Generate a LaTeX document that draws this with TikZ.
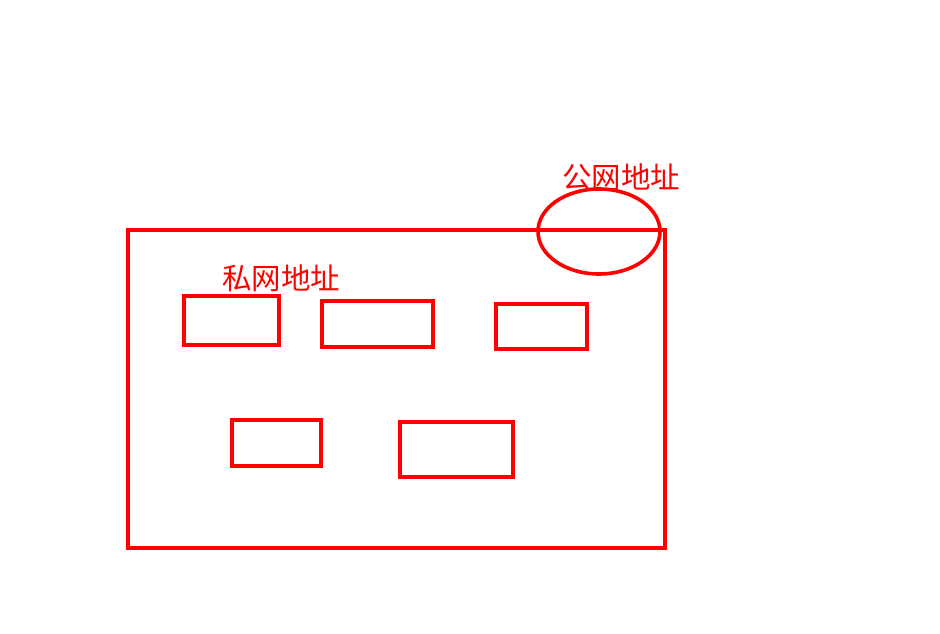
\documentclass[tikz,border=0pt]{standalone}
\usepackage{fontspec}
\newfontfamily\cjk{Noto Sans CJK SC}
\usetikzlibrary{shapes.geometric}
\definecolor{pred}{RGB}{255,0,0}
\tikzset{
  box/.style={draw=pred, line width=3.6pt},
  lbl/.style={text=pred, font=\cjk\fontsize{29.5}{31}\selectfont, inner sep=0pt},
}
\begin{document}
\begin{tikzpicture}[x=1pt,y=-1pt]
\useasboundingbox (0,0) rectangle (940,634);
\draw[box] (128,230) rectangle (665,548);
\node[box, ellipse, minimum width=122pt, minimum height=85pt, inner sep=0pt] (pub) at (599,231.5) {};
\node[lbl] (publbl) at (621,177.5) {公网地址};
\node[lbl] (privlbl) at (281,278) {私网地址};
\draw[box] (184,296) rectangle (279,345);
\draw[box] (322,301) rectangle (433,347);
\draw[box] (496,304) rectangle (587,349);
\draw[box] (232,420) rectangle (321,466);
\draw[box] (400,422) rectangle (513,477);
\end{tikzpicture}
\end{document}
